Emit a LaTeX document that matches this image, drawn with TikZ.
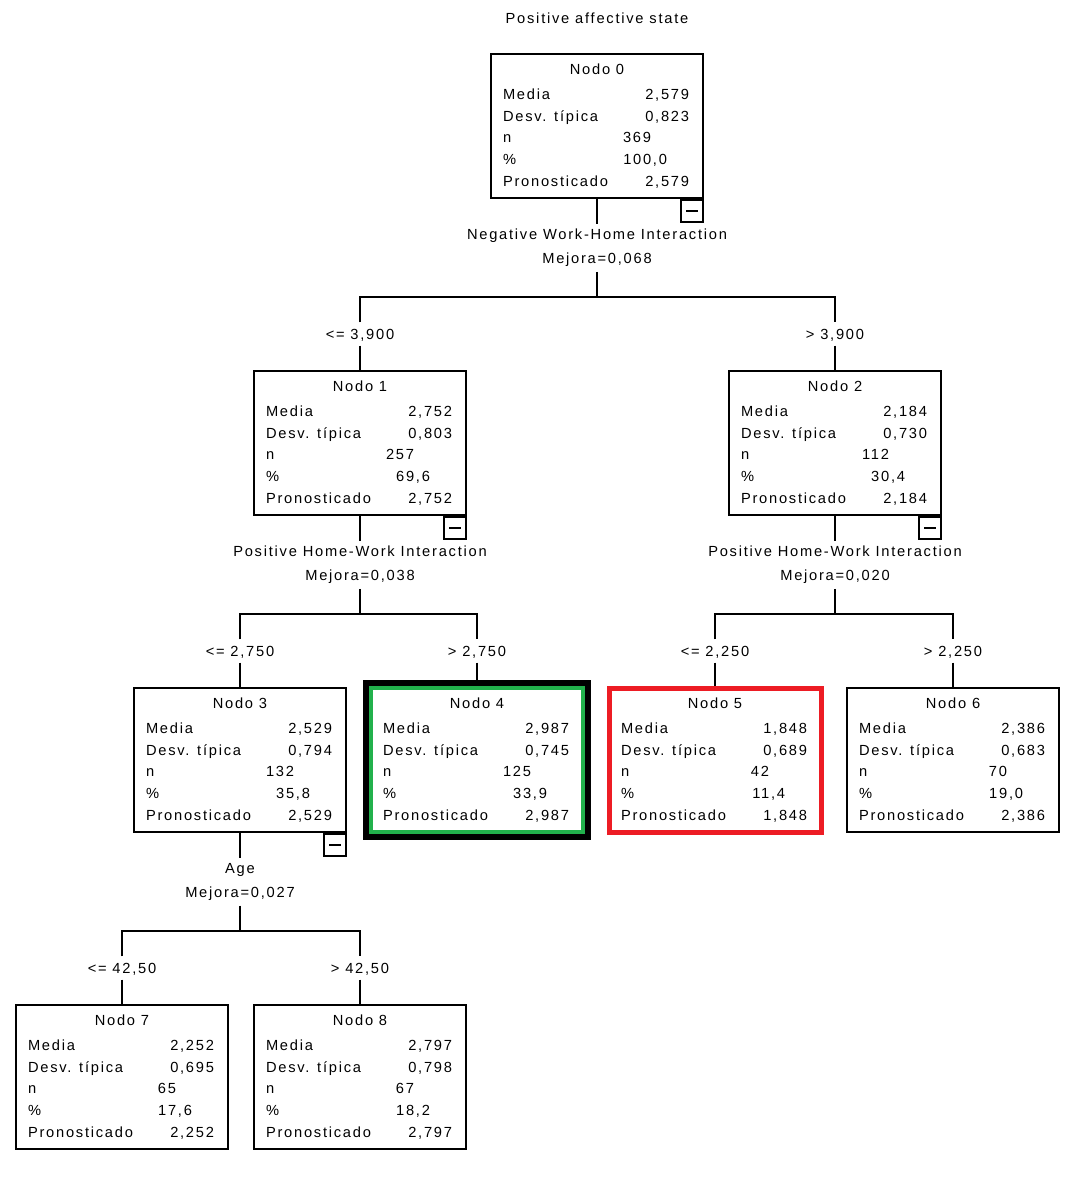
\documentclass[tikz,border=0pt]{standalone}
\usepackage{fontspec}
\setmainfont{Liberation Sans}[LetterSpace=12]
\usetikzlibrary{calc,positioning}
\definecolor{verde}{RGB}{34,177,76}
\definecolor{rojo}{RGB}{237,28,36}
\tikzset{%
        every node/.style={font=\fontsize{11}{13}\selectfont},
        caja/.style={draw, minimum width=159pt, minimum height=108pt, inner sep=0pt},
        elegido/.style={draw=verde, line width=3pt},
        peor/.style={draw=rojo, line width=3.75pt},
        texto/.style={inner sep=0pt, text height=7.9pt, text depth=0pt},
        izq/.style={texto, anchor=west},
        der/.style={texto, anchor=east},
        rama/.style={texto, inner sep=4pt},
        corte/.style={align=center, inner xsep=2pt, inner ysep=3pt,
                font=\fontsize{11}{18}\selectfont},
        menos/.style={draw, minimum size=16.5pt, inner sep=0pt, anchor=north east,
                path picture={\draw[line width=1.2pt]
                ([xshift=-4.5pt]path picture bounding box.center) --
                ([xshift=4.5pt]path picture bounding box.center);}}
}
% #1 extra style, #2 name, #3 centre, #4 number, #5-#9 values
\newcommand{\nodo}[9][]{%
        \node[caja,#1] (#2) at (#3) {};
        \node[texto] (#2-t) at ($(#2.center)+(0,-57)$) {Nodo #4};
        \node[izq] (#2-a) at ($(#2.center)+(-95,-32)$) {Media};
        \node[der] (#2-va) at ($(#2.center)+(93,-32)$) {#5};
        \node[izq] (#2-b) at ($(#2.center)+(-95,-10.25)$) {Desv. típica};
        \node[der] (#2-vb) at ($(#2.center)+(93,-10.25)$) {#6};
        \node[izq] (#2-c) at ($(#2.center)+(-95,11.5)$) {n};
        \node[der] (#2-vc) at ($(#2.center)+(55,11.5)$) {#7};
        \node[izq] (#2-d) at ($(#2.center)+(-95,33.25)$) {\%};
        \node[der] (#2-vd) at ($(#2.center)+(71,33.25)$) {#8};
        \node[izq] (#2-e) at ($(#2.center)+(-95,55)$) {Pronosticado};
        \node[der] (#2-ve) at ($(#2.center)+(93,55)$) {#9};
}
\begin{document}
\begin{tikzpicture}[x=0.75pt, y=-0.75pt, line width=1.5pt]
        \path[use as bounding box, fill=white] (0,0) rectangle (1084,1195);
        \node[texto] (titulo) at (597,18) {Positive affective state};

        \nodo{n0}{597,126}{0}{2,579}{0,823}{369}{100,0}{2,579}
        \nodo{n1}{360,443}{1}{2,752}{0,803}{257}{69,6}{2,752}
        \nodo{n2}{835,443}{2}{2,184}{0,730}{112}{30,4}{2,184}
        \nodo{n3}{240,760}{3}{2,529}{0,794}{132}{35,8}{2,529}
        \nodo[elegido]{n4}{477,760}{4}{2,987}{0,745}{125}{33,9}{2,987}
        \nodo[peor]{n5}{715,760}{5}{1,848}{0,689}{42}{11,4}{1,848}
        \nodo{n6}{953,760}{6}{2,386}{0,683}{70}{19,0}{2,386}
        \nodo{n7}{122,1077}{7}{2,252}{0,695}{65}{17,6}{2,252}
        \nodo{n8}{360,1077}{8}{2,797}{0,798}{67}{18,2}{2,797}
        \draw[line width=4.5pt] ($(n4.south west)+(-3,3)$) rectangle ($(n4.north east)+(3,-3)$);

        \node[menos] (m0) at (n0.south east) {};
        \node[menos] (m1) at (n1.south east) {};
        \node[menos] (m2) at (n2.south east) {};
        \node[menos] (m3) at (n3.south east) {};

        \node[corte] (s0) at (597,248) {Negative Work-Home Interaction\\Mejora=0,068};
        \node[corte] (s1) at (360,565) {Positive Home-Work Interaction\\Mejora=0,038};
        \node[corte] (s2) at (835,565) {Positive Home-Work Interaction\\Mejora=0,020};
        \node[corte] (s3) at (240,882) {Age\\Mejora=0,027};
        \coordinate (b0) at (597,297);
        \coordinate (b1) at (360,614);
        \coordinate (b2) at (835,614);
        \coordinate (b3) at (240,931);

        \node[rama] (r1) at (360,334) {<= 3,900};
        \node[rama] (r2) at (835,334) {> 3,900};
        \node[rama] (r3) at (240,651) {<= 2,750};
        \node[rama] (r4) at (477,651) {> 2,750};
        \node[rama] (r5) at (715,651) {<= 2,250};
        \node[rama] (r6) at (953,651) {> 2,250};
        \node[rama] (r7) at (122,968) {<= 42,50};
        \node[rama] (r8) at (360,968) {> 42,50};

        \draw (n0.south) -- (s0.north);
        \draw (s0.south) -- (b0);
        \draw (r1.north) |- (b0) -| (r2.north);
        \draw (r1.south) -- (n1.north);
        \draw (r2.south) -- (n2.north);

        \draw (n1.south) -- (s1.north);
        \draw (s1.south) -- (b1);
        \draw (r3.north) |- (b1) -| (r4.north);
        \draw (r3.south) -- (n3.north);
        \draw (r4.south) -- (n4.north);

        \draw (n2.south) -- (s2.north);
        \draw (s2.south) -- (b2);
        \draw (r5.north) |- (b2) -| (r6.north);
        \draw (r5.south) -- (n5.north);
        \draw (r6.south) -- (n6.north);

        \draw (n3.south) -- (s3.north);
        \draw (s3.south) -- (b3);
        \draw (r7.north) |- (b3) -| (r8.north);
        \draw (r7.south) -- (n7.north);
        \draw (r8.south) -- (n8.north);
\end{tikzpicture}
\end{document}
